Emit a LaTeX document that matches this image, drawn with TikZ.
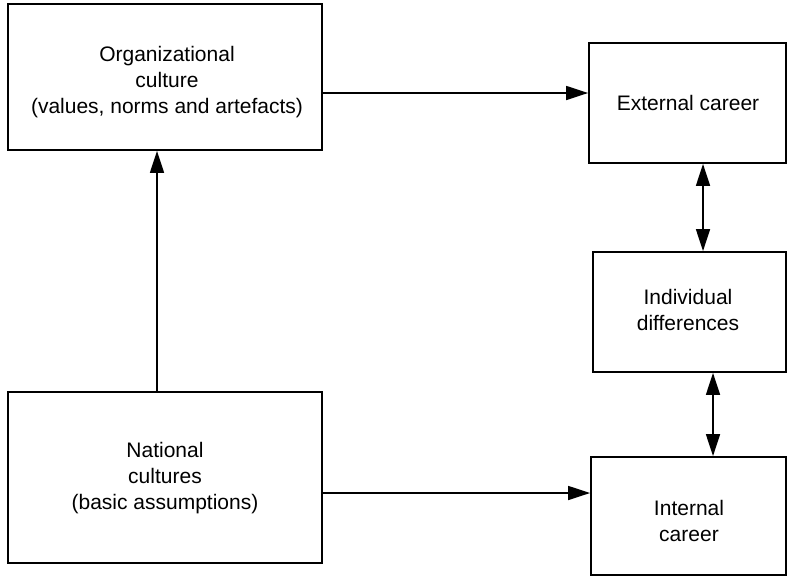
\documentclass[tikz,border=0pt]{standalone}
\usepackage{fontspec}
\setmainfont{Liberation Sans}
\usetikzlibrary{arrows.meta}
\begin{document}
\begin{tikzpicture}[x=1pt,y=-1pt,
  box/.style={draw=black,line width=1.8pt,inner sep=0pt},
  txt/.style={align=center,inner sep=0pt,font=\fontsize{21}{26}\selectfont},
  tip/.tip={Triangle[length=22pt,width=14pt]},
  arr/.style={line width=1.5pt,-tip},
  darr/.style={line width=1.5pt,tip-tip}]
\useasboundingbox (0,0) rectangle (789,576);
% boxes
\node[box,minimum width=314pt,minimum height=146pt] (org) at (165,77) {};
\node[box,minimum width=197pt,minimum height=120pt] (ext) at (687.5,103) {};
\node[box,minimum width=193pt,minimum height=120pt] (ind) at (689.5,312) {};
\node[box,minimum width=314pt,minimum height=171pt] (nat) at (165,477.5) {};
\node[box,minimum width=195pt,minimum height=118pt] (int) at (688.5,516) {};
% box texts
\node[txt] (orgt) at (167,82) {Organizational\\culture\\(values, norms and artefacts)};
\node[txt] (extt) at (688,103) {External career};
\node[txt] (indt) at (688,310) {Individual\\differences};
\node[txt] (natt) at (165,478) {National\\cultures\\(basic assumptions)};
\node[txt] (intt) at (689,521) {Internal\\career};
% connector guides
\coordinate (h1) at (0,93);
\coordinate (h2) at (0,493);
\coordinate (v1) at (157,0);
\coordinate (v2) at (703,0);
\coordinate (v3) at (713,0);
% connectors
\draw[arr] (org.east |- h1) -- (ext.west |- h1);
\draw[arr] (nat.north -| v1) -- (org.south -| v1);
\draw[arr] (nat.east |- h2) -- (int.west |- h2);
\draw[darr] (ext.south -| v2) -- (ind.north -| v2);
\draw[darr] (ind.south -| v3) -- (int.north -| v3);
\end{tikzpicture}
\end{document}
